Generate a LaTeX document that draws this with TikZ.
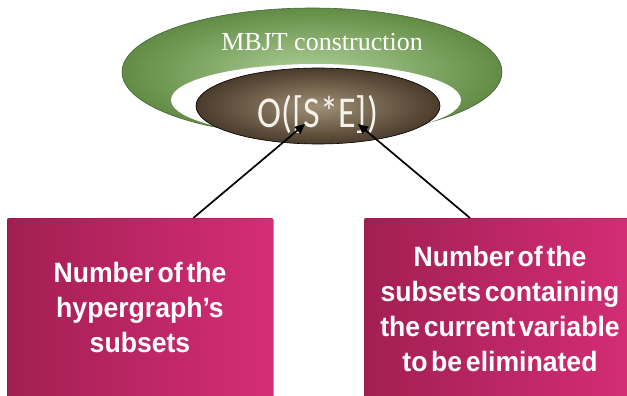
\documentclass[tikz,border=0pt]{standalone}
\usepackage{fontspec}
\setmainfont{Liberation Serif}
\newfontfamily\cali{Carlito}
\newfontfamily\arl{Liberation Sans}[WordSpace=0.5, FakeStretch=0.95]
\usetikzlibrary{arrows.meta,shapes.geometric,shadows}
\definecolor{grnin}{HTML}{AECF96}
\definecolor{grnout}{HTML}{628C45}
\definecolor{grnedge}{HTML}{4A6238}
\definecolor{brnin}{HTML}{A09076}
\definecolor{brnout}{HTML}{4A3B2B}
\definecolor{magdark}{HTML}{A21F52}
\definecolor{maglight}{HTML}{D52D76}
\definecolor{coretxt}{HTML}{F5F2EA}
\tikzset{
  magbox/.style={rectangle, rounded corners=2pt, draw=magdark!80!black, line width=0.3pt,
    left color=magdark, right color=maglight, minimum height=192pt, anchor=north west,
    inner sep=0pt, drop shadow={opacity=0.2, shadow xshift=1pt, shadow yshift=-1pt}},
  boxtext/.style={font=\arl\bfseries\fontsize{28}{35}\selectfont, text=white, align=center, inner sep=0pt},
  conn/.style={-{Triangle[length=10pt,width=9pt]}, line width=1.7pt, black},
}
\begin{document}
\begin{tikzpicture}[x=1pt,y=-1pt]
\useasboundingbox (0,0) rectangle (627,396);
\begin{scope}
\clip (0,0) rectangle (627,396);
\fill[white] (0,0) rectangle (627,396);
% boxes
\node[magbox, minimum width=266pt] (lbox) at (7,218) {};
\node[magbox, minimum width=272pt] (rbox) at (364,218) {};
\node[boxtext] (ltext) at (140,307.8) {Number of the\\hypergraph’s\\subsets};
\node[boxtext] (rtext) at (500,309.3) {Number of the\\subsets containing\\the current variable\\to be eliminated};
% green ring
\shade[inner color=grnin, outer color=grnout, draw=grnedge, line width=0.6pt]
  (312,72) ellipse [x radius=190, y radius=64];
\fill[white] (316,100) ellipse [x radius=145, y radius=36];
\node[font=\fontsize{26}{30}\selectfont, text=white, inner sep=0pt] (title) at (322,42) {MBJT construction};
% core ellipse
\node[ellipse, minimum width=244pt, minimum height=76pt, inner sep=0pt,
  inner color=brnin, outer color=brnout, draw=black, line width=0.6pt] (core) at (318,106) {};
\node[font=\cali\fontsize{44}{48}\selectfont, text=coretxt, inner sep=0pt] (coretext) at (318,114) {\scalebox{0.82}[1]{O([S*E])}};
% connectors
\coordinate (sL) at ([xshift=-80pt]lbox.north east);
\coordinate (tL) at (305,124);
\coordinate (sR) at ([xshift=106pt]rbox.north west);
\coordinate (tR) at (358,124);
\draw[conn] (sL) -- (tL);
\draw[conn] (sR) -- (tR);
\end{scope}
\end{tikzpicture}
\end{document}
